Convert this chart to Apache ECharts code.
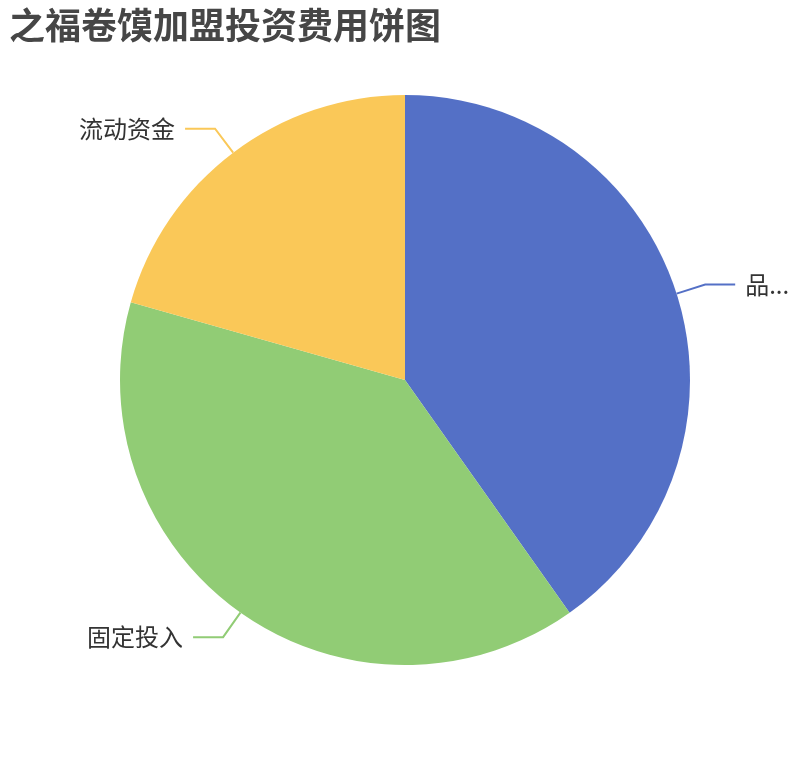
<!DOCTYPE html>
<html>
<head>
<meta charset="utf-8">
<script src="https://cdn.jsdelivr.net/npm/echarts@6/dist/echarts.min.js"></script>
<style>html,body{margin:0;padding:0;background:#fff}#c{width:810px;height:760px}</style>
</head>
<body>
<div id="c"></div>
<script>
var titleText = '之福卷馍加盟投资费用饼图';
var categories = ['品牌加盟费', '固定投入', '流动资金'];
var values = [8, 7.8, 4.1];

var chart = echarts.init(document.getElementById('c'));
chart.setOption({
  animation: false,
  color: ['#5470c6', '#91cc75', '#fac858'],
  title: {
    text: titleText,
    left: 4,
    top: 2,
    textStyle: { fontSize: 36, fontWeight: 'bold', color: '#464646', fontFamily: 'Noto Sans CJK SC' }
  },
  series: [{
    type: 'pie',
    center: ['50%', '50%'],
    radius: '75%',
    startAngle: 90,
    data: categories.map(function (n, i) { return { name: n, value: values[i] }; }),
    label: { fontSize: 24, color: '#333', fontFamily: 'Noto Sans CJK SC', distanceToLabelLine: 10 },
    labelLine: { length: 30, length2: 30, lineStyle: { width: 2 } }
  }]
});
</script>
</body>
</html>
